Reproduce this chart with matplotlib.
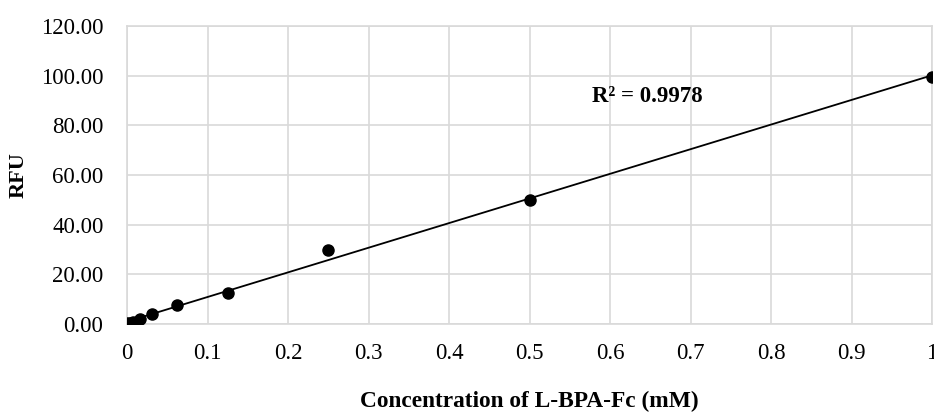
import matplotlib
matplotlib.use("Agg")
import matplotlib.pyplot as plt
import numpy as np
from matplotlib.ticker import FormatStrFormatter, FuncFormatter

# data (concentration in mM, RFU)
conc = [0.0, 0.0039, 0.0078, 0.0156, 0.03125, 0.0625, 0.125, 0.25, 0.5, 1.0]
rfu = [0.3, 0.6, 1.0, 2.2, 4.0, 7.6, 12.5, 29.8, 50.0, 99.5]
r2_label = "R² = 0.9978"

plt.rcParams.update({
    "font.family": "Liberation Serif",
    "font.size": 12,
})

fig = plt.figure(figsize=(9.34, 4.12), dpi=100)
ax = fig.add_axes([0.136, 0.2136, 0.862, 0.7234])

# linear trendline over the data
slope, intercept = np.polyfit(conc, rfu, 1)
xs = np.array([0.0, 1.0])
ax.plot(xs, slope * xs + intercept, color="black", linewidth=1.3, zorder=3)
ax.plot(conc, rfu, "o", color="black", markersize=8, zorder=4)

ax.set_xlim(0, 1)
ax.set_ylim(0, 120)
ax.set_xticks(np.arange(0, 1.01, 0.1))
ax.set_yticks(np.arange(0, 121, 20))
ax.xaxis.set_major_formatter(FuncFormatter(lambda v, _: f"{v:.1f}".rstrip("0").rstrip(".") if v else "0"))
ax.yaxis.set_major_formatter(FormatStrFormatter("%.2f"))
ax.tick_params(axis="y", length=0, labelsize=16.5, pad=17)
ax.tick_params(axis="x", length=0, labelsize=16.5, pad=14)

ax.grid(True, color="#d9d9d9", linewidth=1.2)
ax.set_axisbelow(True)
for s in ax.spines.values():
    s.set_color("#d9d9d9")
    s.set_linewidth(1.2)

ax.text(0.578, 91.4, r2_label, fontsize=16.5, fontweight="bold", va="center")

ax.set_xlabel("Concentration of L-BPA-Fc (mM)", fontsize=16.8, fontweight="bold", labelpad=19)
ax.set_ylabel("RFU", fontsize=16, fontweight="bold", labelpad=9)

fig.savefig("out.png", dpi=100, facecolor="white")
